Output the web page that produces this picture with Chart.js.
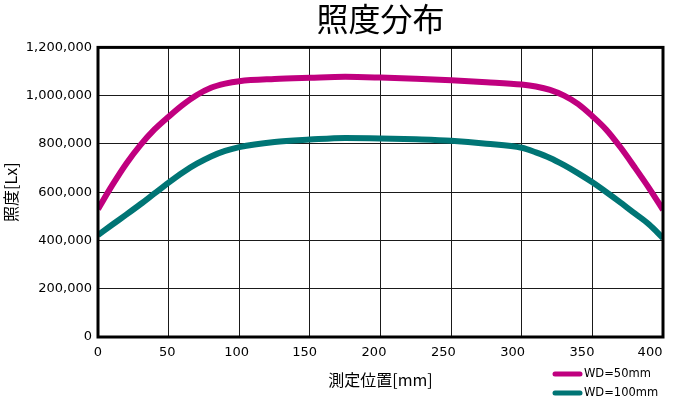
<!DOCTYPE html>
<html>
<head>
<meta charset="utf-8">
<script src="https://cdn.jsdelivr.net/npm/chart.js@4/dist/chart.umd.min.js"></script>
<style>
  html, body { margin: 0; padding: 0; background: #fff; }
  canvas { display: block; }
</style>
</head>
<body>
<canvas id="chart" width="674" height="405"></canvas>
<script>
// 照度分布 - readings

const positions = [0, 10, 20, 30, 40, 50, 60, 70, 80, 90, 100, 125, 150, 175, 200, 225, 250, 275, 300, 310, 320, 330, 340, 350, 360, 370, 380, 390, 400];
const wd50 = [530000, 628000, 718000, 795000, 860000, 913000, 962000, 1003000, 1033000, 1050000, 1060000, 1069000, 1074000, 1078000, 1075000, 1070000, 1064000, 1056000, 1046000, 1038000, 1024000, 1000000, 965000, 915000, 858000, 785000, 703000, 618000, 527000];
const wd100 = [422000, 465000, 507000, 550000, 595000, 640000, 682000, 718000, 748000, 771000, 787000, 808000, 818000, 825000, 823000, 819000, 813000, 801000, 784000, 765000, 742000, 712000, 678000, 641000, 600000, 557000, 512000, 467000, 410000];
const seriesLabels = ['WD=50mm', 'WD=100mm'];
const seriesColors = ['#C0007F', '#007575'];
const xTicks = [0, 50, 100, 150, 200, 250, 300, 350, 400];
const yTicks = [0, 200000, 400000, 600000, 800000, 1000000, 1200000];

const toPoints = vals => vals.map((v, i) => ({ x: positions[i], y: v }));

// thick box round the plot area
const framePlugin = {
    id: 'frame',
    afterDatasetsDraw(chart) {
        const { ctx, chartArea: a } = chart;
        ctx.save();
        ctx.lineWidth = 3;
        ctx.strokeStyle = '#000';
        ctx.strokeRect(a.left, a.top, a.right - a.left, a.bottom - a.top);
        ctx.restore();
    }
};

// legend in the bottom right corner, one row per series
const cornerLegend = {
    id: 'cornerLegend',
    afterDraw(chart) {
        const ctx = chart.ctx;
        ctx.save();
        ctx.font = '11.5px "DejaVu Sans"';
        ctx.textBaseline = 'middle';
        ctx.textAlign = 'left';
        chart.data.datasets.forEach((ds, i) => {
            const y = 374 + i * 19;
            ctx.strokeStyle = ds.borderColor;
            ctx.lineWidth = 5;
            ctx.lineCap = 'round';
            ctx.beginPath();
            ctx.moveTo(555, y);
            ctx.lineTo(580, y);
            ctx.stroke();
            ctx.fillStyle = '#000';
            ctx.fillText(ds.label, 584, y);
        });
        ctx.restore();
    }
};

new Chart(document.getElementById('chart'), {
    type: 'line',
    data: {
        datasets: [
            { label: seriesLabels[0], data: toPoints(wd50), borderColor: seriesColors[0] },
            { label: seriesLabels[1], data: toPoints(wd100), borderColor: seriesColors[1] }
        ].map(ds => Object.assign(ds, {
            backgroundColor: ds.borderColor,
            borderWidth: 6,
            pointRadius: 0,
            fill: false,
            cubicInterpolationMode: 'monotone',
            borderCapStyle: 'butt',
            borderJoinStyle: 'round'
        }))
    },
    options: {
        responsive: false,
        animation: false,
        layout: { padding: { left: 0, right: 11, top: 0, bottom: 0 } },
        plugins: {
            legend: { display: false },
            tooltip: { enabled: false },
            title: {
                display: true,
                text: '照度分布',
                fullSize: false,
                color: '#000',
                font: { family: '"Noto Sans CJK JP"', size: 32, weight: 'normal' },
                padding: { top: 0, bottom: 9 }
            }
        },
        scales: {
            x: {
                type: 'linear',
                min: 0,
                max: 400,
                afterBuildTicks: s => { s.ticks = xTicks.map(v => ({ value: v })); },
                afterFit: s => { s.height = 68; s.paddingLeft = 0; s.paddingRight = 0; },
                border: { display: false },
                grid: { color: '#1a1a1a', lineWidth: 1, drawTicks: false },
                ticks: {
                    color: '#000',
                    padding: 8,
                    maxRotation: 0,
                    font: { family: '"DejaVu Sans"', size: 13 },
                    // the original labels creep a little left of their grid lines
                    callback: (v, i) => String(v) + '\u2009'.repeat(Math.round(i * 1.2))
                },
                title: {
                    display: true,
                    text: '測定位置[mm]',
                    color: '#000',
                    font: { family: '"Noto Sans CJK JP"', size: 16 },
                    padding: { top: 0, bottom: 15 }
                }
            },
            y: {
                min: 0,
                max: 1200000,
                afterBuildTicks: s => { s.ticks = yTicks.map(v => ({ value: v })); },
                afterFit: s => { s.width = 98; s.paddingTop = 0; s.paddingBottom = 0; },
                border: { display: false },
                grid: { color: '#1a1a1a', lineWidth: 1, drawTicks: false },
                ticks: {
                    color: '#000',
                    padding: 6,
                    font: { family: '"DejaVu Sans"', size: 13 },
                    callback: v => v.toLocaleString('en-US')
                },
                title: {
                    display: true,
                    text: '照度[Lx]',
                    color: '#000',
                    font: { family: '"Noto Sans CJK JP"', size: 16 },
                    padding: { top: 1, bottom: 0 }
                }
            }
        }
    },
    plugins: [framePlugin, cornerLegend]
});
</script>
</body>
</html>
